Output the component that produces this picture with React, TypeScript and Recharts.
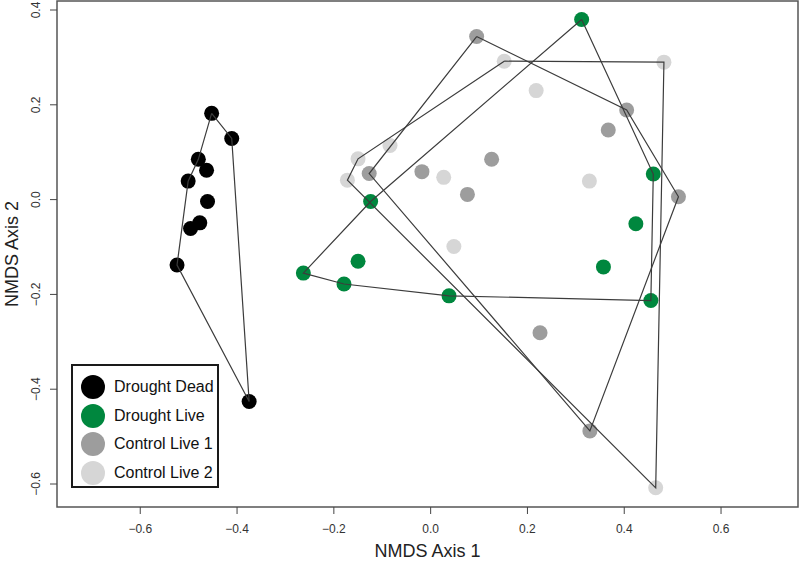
import { ScatterChart, Scatter, XAxis, YAxis, ReferenceArea, Legend } from "recharts";

const FONT = "'Liberation Sans', Arial, sans-serif";

// NMDS scores, one pair of arrays per group
const deadX = [-0.4525, -0.411, -0.48, -0.463, -0.501, -0.461, -0.477, -0.496, -0.524, -0.375];
const deadY = [0.182, 0.129, 0.085, 0.062, 0.039, -0.004, -0.049, -0.061, -0.138, -0.426];
const deadHull = [0, 1, 9, 8, 4, 2, 0];

const liveX = [0.312, -0.124, 0.46, 0.424, -0.15, -0.263, -0.179, 0.038, 0.357, 0.455];
const liveY = [0.38, -0.004, 0.054, -0.051, -0.13, -0.155, -0.178, -0.203, -0.142, -0.213];
const liveHull = [0, 1, 5, 6, 7, 9, 2, 0];

const ctrl1X = [0.095, 0.405, 0.367, 0.512, -0.127, -0.018, 0.126, 0.076, 0.226, 0.329];
const ctrl1Y = [0.344, 0.189, 0.147, 0.006, 0.055, 0.059, 0.085, 0.011, -0.281, -0.488];
const ctrl1Hull = [0, 1, 3, 9, 4, 0];

const ctrl2X = [0.482, 0.152, 0.218, -0.084, -0.15, -0.172, 0.027, 0.328, 0.048, 0.465];
const ctrl2Y = [0.29, 0.292, 0.23, 0.114, 0.086, 0.041, 0.047, 0.039, -0.099, -0.608];
const ctrl2Hull = [1, 0, 9, 5, 4, 1];

const xTicks = [-0.6, -0.4, -0.2, 0, 0.2, 0.4, 0.6];
const yTicks = [-0.6, -0.4, -0.2, 0, 0.2, 0.4];
const xDomain: [number, number] = [-0.772, 0.759];
const yDomain: [number, number] = [-0.6485, 0.419];

const groups = [
  { name: "Drought Dead", color: "#000000", xs: deadX, ys: deadY, hull: deadHull },
  { name: "Drought Live", color: "#00873e", xs: liveX, ys: liveY, hull: liveHull },
  { name: "Control Live 1", color: "#9d9d9d", xs: ctrl1X, ys: ctrl1Y, hull: ctrl1Hull },
  { name: "Control Live 2", color: "#d6d6d6", xs: ctrl2X, ys: ctrl2Y, hull: ctrl2Hull },
].map((g) => {
  const points = g.xs.map((x, i) => ({ x, y: g.ys[i] }));
  return { ...g, points, hullPoints: g.hull.map((i) => points[i]) };
});

const fmt = (v: number) => v.toFixed(1).replace("-", "\u2212");

const YTick = ({ x, y, payload }: any) => (
  <text
    x={x}
    y={y}
    transform={`rotate(-90 ${x} ${y})`}
    textAnchor="middle"
    fontSize={12}
    fontFamily={FONT}
    fill="#333"
  >
    {fmt(payload.value)}
  </text>
);

const LegendBox = () => (
  <div
    style={{
      border: "2px solid #1a1a1a",
      background: "#fff",
      padding: "7px 0 0 7px",
      width: 148,
      height: 124,
      boxSizing: "border-box",
      fontFamily: FONT,
      fontSize: 16,
      color: "#111",
    }}
  >
    {groups.map((g) => (
      <div key={g.name} style={{ display: "flex", alignItems: "center", height: 28.5 }}>
        <svg width={26} height={26} style={{ marginRight: 8 }}>
          <circle cx={13} cy={13} r={12} fill={g.color} />
        </svg>
        <span>{g.name}</span>
      </div>
    ))}
  </div>
);

const CirclePoint = (color: string) => (props: any) =>
  <circle cx={props.cx} cy={props.cy} r={7.5} fill={color} />;

export default function App() {
  return (
    <div style={{ position: "absolute", left: 0, top: 0, background: "#fff" }}>
      <ScatterChart width={800} height={561} margin={{ top: 1, right: 2, left: 0, bottom: 0 }}>
        <XAxis
          type="number"
          dataKey="x"
          domain={xDomain}
          ticks={xTicks}
          allowDataOverflow
          axisLine={false}
          tickLine={{ stroke: "#444" }}
          tickSize={7}
          tickMargin={10}
          height={54}
          tick={{ fontSize: 12, fontFamily: FONT, fill: "#333" }}
          tickFormatter={fmt}
          label={{
            value: "NMDS Axis 1",
            position: "insideBottom",
            offset: 4,
            fontSize: 18,
            fontFamily: FONT,
            fill: "#222",
          }}
        />
        <YAxis
          type="number"
          dataKey="y"
          domain={yDomain}
          ticks={yTicks}
          allowDataOverflow
          axisLine={false}
          tickLine={{ stroke: "#444" }}
          tickSize={7}
          tickMargin={10}
          width={57}
          tick={<YTick />}
          label={{
            value: "NMDS Axis 2",
            angle: -90,
            position: "insideLeft",
            offset: 12,
            fontSize: 18,
            fontFamily: FONT,
            fill: "#222",
            style: { textAnchor: "middle" },
          }}
        />
        <ReferenceArea
          x1={xDomain[0]}
          x2={xDomain[1]}
          y1={yDomain[0]}
          y2={yDomain[1]}
          fill="none"
          stroke="#555"
          strokeWidth={1.5}
          ifOverflow="visible"
        />
        {groups.map((g) => (
          <Scatter
            key={g.name}
            name={g.name}
            data={g.points}
            fill={g.color}
            shape={CirclePoint(g.color)}
            isAnimationActive={false}
          />
        ))}
        {groups.map((g) => (
          <Scatter
            key={g.name + "-hull"}
            data={g.hullPoints}
            line={{ stroke: "#3c3c3c", strokeWidth: 1.2 }}
            shape={() => <g />}
            legendType="none"
            isAnimationActive={false}
          />
        ))}
        <Legend
          layout="vertical"
          align="center"
          verticalAlign="middle"
          wrapperStyle={{ left: 71, top: 364, width: 152, height: 128 }}
          content={() => <LegendBox />}
        />
      </ScatterChart>
    </div>
  );
}
